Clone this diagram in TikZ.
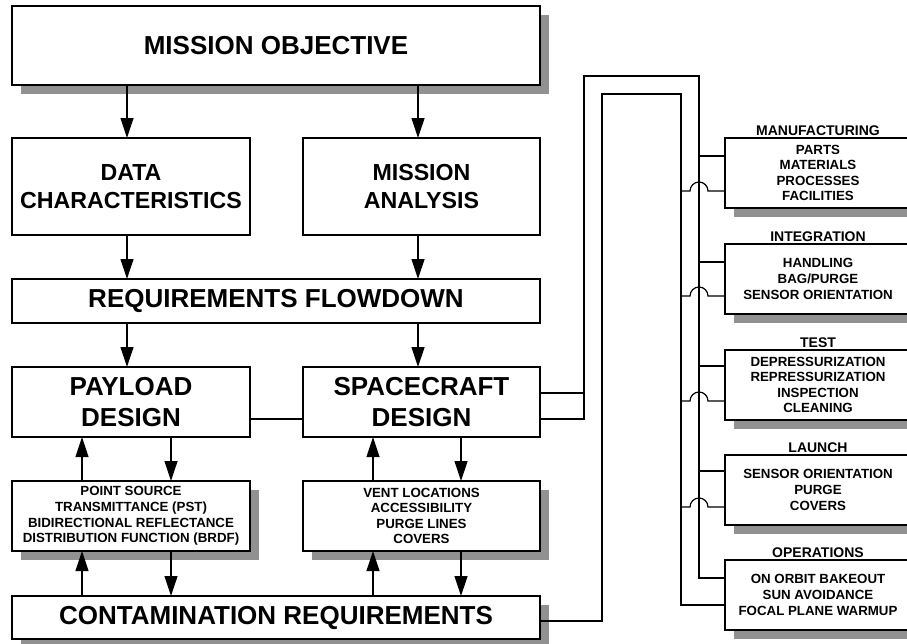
\documentclass[tikz,border=0pt]{standalone}
\usepackage{fontspec}
\setmainfont{Liberation Sans}
\usetikzlibrary{arrows.meta,shadows}
\definecolor{shadowgray}{RGB}{145,145,145}
\tikzset{
 box/.style={draw=black, line width=1.3pt, fill=white, inner sep=0pt, outer sep=0pt, align=center},
 shad/.style={drop shadow={shadow xshift=9pt, shadow yshift=-9pt, fill=shadowgray, opacity=1}},
 arr/.style={line width=1.2pt, -{Triangle[length=20pt,width=13pt]}},
 conn/.style={line width=1.2pt},
 bigtxt/.style={font=\fontsize{26}{31}\selectfont\bfseries},
 midtxt/.style={font=\fontsize{23.2}{28}\selectfont\bfseries},
 smalltxt/.style={font=\fontsize{13.3}{15.6}\selectfont\bfseries},
 ttltxt/.style={font=\fontsize{14}{16}\selectfont\bfseries, inner sep=0pt},
}
\begin{document}
\begin{tikzpicture}[x=1pt,y=-1pt]
\useasboundingbox (0,0) rectangle (907,643);
\clip (0,0) rectangle (907,643);
% left column boxes
\node[box, shad, bigtxt, minimum width=528pt, minimum height=79pt] (mo) at (276,45.5) {MISSION OBJECTIVE};
\node[box, midtxt, minimum width=238pt, minimum height=97pt] (dc) at (131,186.5) {DATA\\CHARACTERISTICS};
\node[box, midtxt, minimum width=237pt, minimum height=97pt] (ma) at (421.5,186.5) {MISSION\\ANALYSIS};
\node[box, bigtxt, minimum width=528pt, minimum height=44pt] (rf) at (276,301) {REQUIREMENTS FLOWDOWN};
\node[box, bigtxt, minimum width=238pt, minimum height=70pt] (pd) at (131,402) {PAYLOAD\\DESIGN};
\node[box, bigtxt, minimum width=237pt, minimum height=70pt] (sd) at (421.5,402) {SPACECRAFT\\DESIGN};
\node[box, shad, smalltxt, minimum width=238pt, minimum height=70pt] (ps) at (131,516) {POINT SOURCE\\TRANSMITTANCE (PST)\\BIDIRECTIONAL REFLECTANCE\\DISTRIBUTION FUNCTION (BRDF)};
\node[box, shad, smalltxt, minimum width=237pt, minimum height=70pt] (ss) at (421.5,516) {VENT LOCATIONS\\ACCESSIBILITY\\PURGE LINES\\COVERS};
\node[box, shad, bigtxt, minimum width=528pt, minimum height=43pt] (cr) at (276,617.5) {CONTAMINATION REQUIREMENTS};
% right column boxes
\node[box, shad, smalltxt, minimum width=186pt, minimum height=70pt] (b1) at (818,173) {PARTS\\MATERIALS\\PROCESSES\\FACILITIES};
\node[box, shad, smalltxt, minimum width=186pt, minimum height=70pt] (b2) at (818,279) {HANDLING\\BAG/PURGE\\SENSOR ORIENTATION};
\node[box, shad, smalltxt, minimum width=186pt, minimum height=70pt] (b3) at (818,385) {DEPRESSURIZATION\\REPRESSURIZATION\\INSPECTION\\CLEANING};
\node[box, shad, smalltxt, minimum width=186pt, minimum height=70pt] (b4) at (818,490) {SENSOR ORIENTATION\\PURGE\\COVERS};
\node[box, shad, smalltxt, minimum width=186pt, minimum height=70pt] (b5) at (818,595) {ON ORBIT BAKEOUT\\SUN AVOIDANCE\\FOCAL PLANE WARMUP};
\node[ttltxt] (t1) at ([yshift=7pt]b1.north) {MANUFACTURING};
\node[ttltxt] (t2) at ([yshift=7pt]b2.north) {INTEGRATION};
\node[ttltxt] (t3) at ([yshift=7pt]b3.north) {TEST};
\node[ttltxt] (t4) at ([yshift=7pt]b4.north) {LAUNCH};
\node[ttltxt] (t5) at ([yshift=7pt]b5.north) {OPERATIONS};
% arrow columns
\coordinate (xa) at (127,0);
\coordinate (xb) at (418,0);
\coordinate (xc) at (82,0);
\coordinate (xd) at (171,0);
\coordinate (xe) at (373,0);
\coordinate (xf) at (461,0);
\draw[arr] (mo.south -| xa) -- (dc.north -| xa);
\draw[arr] (mo.south -| xb) -- (ma.north -| xb);
\draw[arr] (dc.south -| xa) -- (rf.north -| xa);
\draw[arr] (ma.south -| xb) -- (rf.north -| xb);
\draw[arr] (rf.south -| xa) -- (pd.north -| xa);
\draw[arr] (rf.south -| xb) -- (sd.north -| xb);
\draw[arr] (ps.north -| xc) -- (pd.south -| xc);
\draw[arr] (pd.south -| xd) -- (ps.north -| xd);
\draw[arr] (ss.north -| xe) -- (sd.south -| xe);
\draw[arr] (sd.south -| xf) -- (ss.north -| xf);
\draw[arr] (cr.north -| xc) -- (ps.south -| xc);
\draw[arr] (ps.south -| xd) -- (cr.north -| xd);
\draw[arr] (cr.north -| xe) -- (ss.south -| xe);
\draw[arr] (ss.south -| xf) -- (cr.north -| xf);
\coordinate (ypd) at (0,419);
\draw[conn] (pd.east |- ypd) -- (sd.west |- ypd);
% outer loop (from spacecraft design)
\coordinate (oA) at (584,393);
\coordinate (oB) at (584,419);
\coordinate (oT1) at (584,76);
\coordinate (oT2) at (699,76);
\coordinate (oE) at (699,578);
\draw[conn] (sd.east |- oA) -- (oA);
\draw[conn] (sd.east |- oB) -- (oB) -- (oT1) -- (oT2) -- (oE) -- (b5.west |- oE);
% inner loop (from contamination requirements)
\coordinate (iA) at (602,621);
\coordinate (iT1) at (602,94);
\coordinate (iT2) at (681,94);
\coordinate (iE) at (681,605);
\draw[conn] (cr.east |- iA) -- (iA) -- (iT1) -- (iT2) -- (iE) -- (b5.west |- iE);
% branches
\foreach \b/\u/\l in {b1/156/191, b2/262/296, b3/366/401, b4/471/507} {
  \coordinate (uu) at (699,\u);
  \coordinate (ll) at (681,\l);
  \coordinate (hh) at (690,\l);
  \draw[conn] (uu) -- (\b.west |- uu);
  \draw[conn] (ll) -- (hh) arc[start angle=180, end angle=0, radius=9pt] -- (\b.west |- ll);
}
\end{tikzpicture}
\end{document}
